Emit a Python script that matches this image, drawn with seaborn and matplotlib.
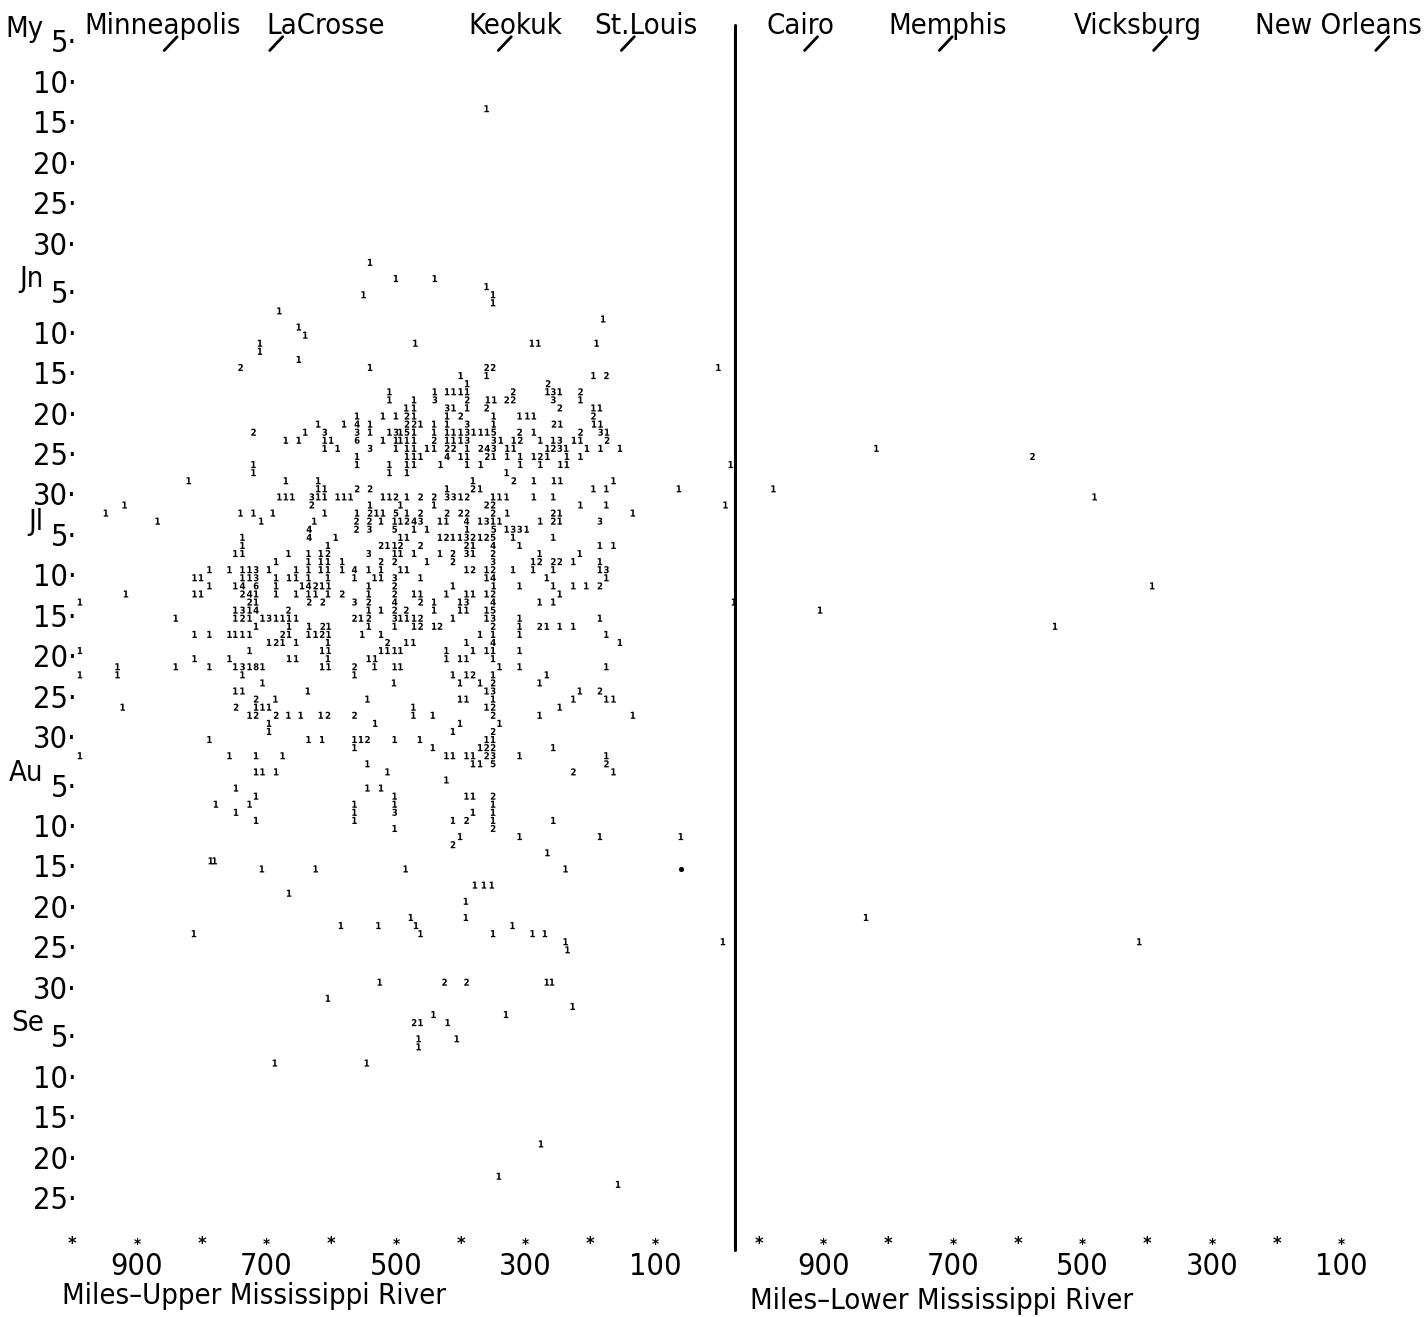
import matplotlib
matplotlib.use("Agg")
import matplotlib.pyplot as plt
import pandas as pd
import seaborn as sns

# days are counted from April 30 (May 5 = 5, Jun 5 = 36, Jul 5 = 66 ...)
# miles are river miles; each digit is a count of cases on that day / stretch

upper_row_day = [
    13, 32, 34, 35, 36, 37, 38, 39, 40, 41, 42, 43, 44, 45, 46, 47,
    48, 49, 50, 51, 52, 53, 54, 55, 56, 57, 58, 59, 60, 61, 62, 63,
    64, 65, 66, 67, 68, 69, 70, 71, 72, 73, 74, 75, 76, 77, 78, 79,
    80, 81, 82, 83, 84, 85, 86, 87, 88, 89, 90, 91, 92, 93, 94, 95,
    96, 97, 98, 99, 100, 101, 102, 103, 104, 105, 106, 107, 109, 110,
    111, 113, 114, 115, 116, 117, 121, 123, 124, 125, 126, 128, 129,
    131, 141, 145, 146,
]

upper_row_mile = [
    [360],
    [540],
    [500, 440],
    [360],
    [550, 350],
    [350],
    [680],
    [180],
    [650],
    [640],
    [710, 470, 290, 280, 190],
    [710],
    [650],
    [740, 540, 360, 350, 2],
    [400, 360, 195, 175],
    [390, 265],
    [510, 440, 421, 411, 400, 390, 319, 266, 257, 247, 215],
    [510, 472, 440, 390, 358, 348, 329, 319, 257, 215],
    [484, 472, 421, 411, 390, 360, 247, 195, 185],
    [560, 520, 500, 483, 472, 421, 400, 349, 309, 297, 287, 195],
    [620, 580, 560, 540, 483, 472, 462, 441, 421, 390, 349, 256, 246, 194,
     184],
    [720, 640, 610, 560, 540, 510, 500, 493, 483, 472, 441, 421, 411, 400,
     390, 380, 369, 359, 349, 309, 287, 215, 184, 174],
    [670, 650, 610, 600, 560, 520, 500, 493, 483, 472, 441, 421, 411, 400,
     390, 349, 338, 318, 308, 277, 257, 247, 225, 215, 174],
    [610, 590, 540, 500, 483, 472, 452, 441, 421, 411, 390, 369, 359, 349,
     328, 318, 266, 257, 247, 237, 205, 184, 154],
    [560, 483, 472, 462, 421, 400, 390, 359, 349, 328, 308, 287, 277, 266,
     236, 215],
    [720, 560, 510, 483, 472, 431, 390, 369, 308, 277, 246, 236, -17],
    [720, 510, 483, 329],
    [820, 670, 620, 381, 318, 287, 256, 246, 164],
    [620, 610, 560, 540, 421, 381, 370, 195, 175, 63],
    [680, 670, 660, 630, 620, 610, 590, 580, 570, 520, 510, 500, 483, 462,
     441, 421, 411, 400, 390, 350, 340, 329, 287, 257],
    [919, 630, 540, 493, 441, 360, 350, 215, 175, -9],
    [948, 740, 720, 690, 610, 560, 540, 530, 520, 500, 483, 462, 421, 400,
     390, 350, 328, 257, 247, 134],
    [868, 708, 626, 561, 541, 523, 502, 493, 483, 472, 462, 432, 422, 391,
     370, 360, 350, 340, 277, 257, 247, 185],
    [634, 561, 541, 502, 472, 452, 390, 349, 329, 319, 309, 298],
    [737, 634, 593, 493, 483, 432, 422, 412, 401, 391, 381, 370, 360, 350,
     319, 257],
    [737, 605, 523, 513, 502, 493, 462, 391, 381, 350, 309, 185, 164],
    [748, 737, 666, 635, 616, 605, 542, 502, 493, 472, 432, 412, 391, 381,
     350, 278, 216],
    [685, 635, 616, 605, 583, 523, 502, 452, 412, 350, 288, 278, 257, 247,
     226, 185],
    [788, 757, 737, 726, 716, 696, 654, 635, 616, 605, 583, 564, 542, 523,
     493, 483, 391, 381, 360, 350, 319, 288, 257, 185, 175],
    [811, 801, 737, 726, 716, 685, 665, 654, 635, 605, 564, 533, 523, 502,
     462, 360, 350, 267, 175],
    [788, 748, 737, 716, 685, 645, 635, 624, 614, 604, 542, 502, 412, 349,
     309, 257, 226, 206, 185],
    [917, 811, 801, 737, 726, 716, 685, 654, 635, 624, 605, 583, 542, 502,
     472, 462, 422, 391, 381, 360, 350, 247],
    [988, 726, 716, 634, 613, 564, 542, 502, 462, 441, 401, 391, 350, 278,
     257, -22],
    [748, 737, 726, 716, 666, 542, 523, 502, 484, 441, 401, 391, 360, 350],
    [840, 748, 737, 726, 706, 696, 685, 675, 665, 654, 564, 554, 542, 502,
     493, 483, 472, 462, 412, 360, 350, 309, 185],
    [716, 665, 634, 613, 604, 542, 502, 472, 462, 441, 432, 350, 309, 278,
     267, 247, 226],
    [811, 788, 757, 748, 737, 726, 675, 665, 635, 624, 614, 604, 552, 523,
     370, 350, 309, 175],
    [696, 685, 675, 654, 605, 513, 484, 473, 391, 350, 154],
    [988, 726, 614, 604, 523, 513, 502, 493, 422, 381, 360, 350, 309],
    [811, 757, 665, 654, 605, 542, 532, 422, 401, 391, 350],
    [930, 840, 788, 748, 737, 726, 716, 706, 614, 604, 564, 533, 502, 493,
     340, 309, 175],
    [988, 930, 737, 564, 412, 391, 381, 350, 267],
    [706, 503, 401, 370, 350, 278],
    [748, 737, 636, 360, 350, 216, 185],
    [716, 686, 544, 401, 391, 350, 226, 175, 164],
    [922, 747, 716, 706, 696, 473, 360, 350, 247],
    [726, 716, 685, 666, 647, 616, 605, 564, 473, 443, 350, 278, 134],
    [696, 532, 401, 340],
    [696, 412, 350],
    [788, 635, 614, 564, 554, 544, 502, 463, 360, 350],
    [564, 443, 370, 360, 350, 257],
    [988, 757, 716, 675, 422, 412, 391, 381, 360, 350, 309, 175],
    [544, 381, 370, 350, 175],
    [716, 706, 685, 513, 226, 164],
    [422],
    [747, 544, 523],
    [716, 502, 391, 381, 350],
    [778, 726, 564, 502, 350],
    [747, 564, 502, 381, 350],
    [716, 564, 412, 391, 350, 257],
    [502, 350],
    [401, 309, 185, 60],
    [412],
    [266],
    [786, 780],
    [707, 624, 485, 238],
    [378, 364, 352],
    [665],
    [392],
    [477, 392],
    [585, 527, 469, 320],
    [812, 462, 350, 289, 270],
    [238, -5],
    [235],
    [525, 425, 391, 267, 259],
    [605],
    [227],
    [442, 330],
    [472, 462, 420],
    [465, 406],
    [465],
    [687, 545],
    [276],
    [341],
    [157],
]

upper_row_count = [
    [1],
    [1],
    [1, 1],
    [1],
    [1, 1],
    [1],
    [1],
    [1],
    [1],
    [1],
    [1, 1, 1, 1, 1],
    [1],
    [1],
    [2, 1, 2, 2, 1],
    [1, 1, 1, 2],
    [1, 2],
    [1, 1, 1, 1, 1, 1, 2, 1, 3, 1, 2],
    [1, 1, 3, 2, 1, 1, 2, 2, 3, 1],
    [1, 1, 3, 1, 1, 2, 2, 1, 1],
    [1, 1, 1, 2, 1, 1, 2, 1, 1, 1, 1, 2],
    [1, 1, 4, 1, 2, 2, 1, 1, 1, 3, 1, 2, 1, 1, 1],
    [2, 1, 3, 3, 1, 1, 3, 1, 5, 1, 1, 1, 1, 1, 3, 1, 1, 1, 5, 2, 1, 2, 3, 1],
    [1, 1, 1, 1, 6, 1, 1, 1, 1, 1, 2, 1, 1, 1, 3, 3, 1, 1, 2, 1, 1, 3, 1, 1,
     2],
    [1, 1, 3, 1, 1, 1, 1, 1, 2, 2, 1, 2, 4, 3, 1, 1, 1, 2, 3, 1, 1, 1, 1],
    [1, 1, 1, 1, 4, 1, 1, 2, 1, 1, 1, 1, 2, 1, 1, 1],
    [1, 1, 1, 1, 1, 1, 1, 1, 1, 1, 1, 1, 1],
    [1, 1, 1, 1],
    [1, 1, 1, 1, 2, 1, 1, 1, 1],
    [1, 1, 2, 2, 1, 2, 1, 1, 1, 1],
    [1, 1, 1, 3, 1, 1, 1, 1, 1, 1, 1, 2, 1, 2, 2, 3, 3, 1, 2, 1, 1, 1, 1, 1],
    [1, 2, 1, 1, 1, 2, 2, 1, 1, 1],
    [1, 1, 1, 1, 1, 1, 2, 1, 1, 5, 1, 2, 2, 2, 2, 2, 1, 2, 1, 1],
    [1, 1, 1, 2, 2, 1, 1, 1, 2, 4, 3, 1, 1, 4, 1, 3, 1, 1, 1, 2, 1, 3],
    [4, 2, 3, 5, 1, 1, 1, 5, 1, 3, 3, 1],
    [1, 4, 1, 1, 1, 1, 2, 1, 1, 3, 2, 1, 2, 5, 1, 1],
    [1, 1, 2, 1, 1, 2, 2, 2, 1, 4, 1, 1, 1],
    [1, 1, 1, 1, 1, 2, 3, 1, 1, 1, 1, 2, 3, 1, 2, 1, 1],
    [1, 1, 1, 1, 1, 2, 2, 1, 2, 3, 1, 2, 2, 2, 1, 1],
    [1, 1, 1, 1, 3, 1, 1, 1, 1, 1, 1, 4, 1, 1, 1, 1, 1, 2, 1, 2, 1, 1, 1, 1,
     3],
    [1, 1, 1, 1, 3, 1, 1, 1, 1, 1, 1, 1, 1, 3, 1, 1, 4, 1, 1],
    [1, 1, 4, 6, 1, 1, 4, 2, 1, 1, 1, 2, 1, 1, 1, 1, 1, 1, 2],
    [1, 1, 1, 2, 4, 1, 1, 1, 1, 1, 1, 2, 1, 2, 1, 1, 1, 1, 1, 1, 2, 1],
    [1, 2, 1, 2, 2, 3, 2, 4, 2, 1, 1, 3, 4, 1, 1, 1],
    [1, 3, 1, 4, 2, 1, 1, 2, 2, 1, 1, 1, 1, 5],
    [1, 1, 2, 1, 1, 3, 1, 1, 1, 1, 2, 1, 2, 3, 1, 1, 1, 2, 1, 1, 3, 1, 1],
    [1, 1, 1, 2, 1, 1, 1, 1, 2, 1, 2, 2, 1, 2, 1, 1, 1],
    [1, 1, 1, 1, 1, 1, 2, 1, 1, 1, 2, 1, 1, 1, 1, 1, 1, 1],
    [1, 2, 1, 1, 1, 2, 1, 1, 1, 4, 1],
    [1, 1, 1, 1, 1, 1, 1, 1, 1, 1, 1, 1, 1],
    [1, 1, 1, 1, 1, 1, 1, 1, 1, 1, 1],
    [1, 1, 1, 1, 3, 1, 8, 1, 1, 1, 2, 1, 1, 1, 1, 1, 1],
    [1, 1, 1, 1, 1, 1, 2, 1, 1],
    [1, 1, 1, 1, 2, 1],
    [1, 1, 1, 1, 3, 1, 2],
    [2, 1, 1, 1, 1, 1, 1, 1, 1],
    [1, 2, 1, 1, 1, 1, 1, 2, 1],
    [1, 2, 2, 1, 1, 1, 2, 2, 1, 1, 2, 1, 1],
    [1, 1, 1, 1],
    [1, 1, 2],
    [1, 1, 1, 1, 1, 2, 1, 1, 1, 1],
    [1, 1, 1, 2, 2, 1],
    [1, 1, 1, 1, 1, 1, 1, 1, 2, 3, 1, 1],
    [1, 1, 1, 5, 2],
    [1, 1, 1, 1, 2, 1],
    [1],
    [1, 1, 1],
    [1, 1, 1, 1, 2],
    [1, 1, 1, 1, 1],
    [1, 1, 3, 1, 1],
    [1, 1, 1, 2, 1, 1],
    [1, 2],
    [1, 1, 1, 1],
    [2],
    [1],
    [1, 1],
    [1, 1, 1, 1],
    [1, 1, 1],
    [1],
    [1],
    [1, 1],
    [1, 1, 1, 1],
    [1, 1, 1, 1, 1],
    [1, 1],
    [1],
    [1, 2, 2, 1, 1],
    [1],
    [1],
    [1, 1],
    [2, 1, 1],
    [1, 1],
    [1],
    [1, 1],
    [1],
    [1],
    [1],
]

lower_day = [55, 56, 60, 61, 72, 75, 77, 113, 116]
lower_mile = [818, 577, 977, 481, 392, 905, 542, 834, 412]
lower_count = [1, 2, 1, 1, 1, 1, 1, 1, 1]

dot_day = [107]
dot_mile = [60]

upper_towns = ["Minneapolis", "LaCrosse", "Keokuk", "St.Louis"]
upper_town_mile = [848, 685, 332, 142]
lower_towns = ["Cairo", "Memphis", "Vicksburg", "New Orleans"]
lower_town_mile = [919, 711, 380, 37]

tick_day = [5, 10, 15, 20, 25, 30, 36, 41, 46, 51, 56, 61, 66, 71, 76, 81,
            86, 91, 97, 102, 107, 112, 117, 122, 128, 133, 138, 143, 148]
tick_label = ["5", "10", "15", "20", "25", "30"] * 4 + \
    ["5", "10", "15", "20", "25"]
month_day = [5, 36, 66, 97, 128]
month_name = ["My", "Jn", "Jl", "Au", "Se"]

mile_labels = [900, 700, 500, 300, 100]
mile_stars = [1000, 800, 600, 400, 200]

FS = 21


def upper_x(m):
    """Chart position of an Upper Mississippi mile."""
    return 1000 - m


def lower_x(m):
    """Chart position of a Lower Mississippi mile."""
    return 2060 - m


def build_marks():
    rows = []
    for day, miles, counts in zip(upper_row_day, upper_row_mile,
                                  upper_row_count):
        assert len(miles) == len(counts), day
        for m, c in zip(miles, counts):
            rows.append((upper_x(m), day, c))
    for day, m, c in zip(lower_day, lower_mile, lower_count):
        rows.append((lower_x(m), day, c))
    return pd.DataFrame(rows, columns=["x", "day", "count"])


def main():
    sns.set_theme(style="white")
    # narrow face for the labels, like the original print
    plt.rcParams['font.family'] = ['Liberation Sans Narrow',
                                   'DejaVu Sans Condensed', 'DejaVu Sans']
    plt.rcParams['font.stretch'] = 'condensed'
    plt.rcParams['text.color'] = 'black'
    fig = plt.figure(figsize=(14.24, 13.17), dpi=100)
    ax = fig.add_axes([0, 0, 1, 1])

    marks = build_marks()
    levels = sorted(marks["count"].unique())
    markers = {c: "$\\mathbf{%d}$" % c for c in levels}
    sns.scatterplot(data=marks, x="x", y="day", style="count",
                    markers=markers, color="black", s=26, linewidth=0,
                    legend=False, ax=ax)
    sns.scatterplot(x=[upper_x(m) for m in dot_mile], y=dot_day,
                    marker="o", color="black", s=14, linewidth=0,
                    legend=False, ax=ax)

    ax.set_xlim(-111.6, 2087.6)
    ax.set_ylim(162.4, -0.44)
    ax.axis("off")

    # divider between the two rivers
    ax.plot([1023.6, 1023.6], [2.6, 154.1], color="black", lw=2.2)

    # left date scale
    for d, lab in zip(tick_day, tick_label):
        ax.text(7.3, d, lab + "\u00b7", ha="right", va="center",
                fontsize=FS + 1)
    for d, name in zip(month_day, month_name):
        ax.text(-44, d - 1.9, name, ha="right", va="center", fontsize=FS)

    # towns along the top
    up_off = [-12, 76, 17, 28]
    lo_off = [-17, 3, -34, -68]
    towns = list(zip(upper_towns, map(upper_x, upper_town_mile), up_off)) + \
        list(zip(lower_towns, map(lower_x, lower_town_mile), lo_off))
    for name, x, off in towns:
        ax.text(x + off, 3.8, name, ha="center", va="baseline", fontsize=FS)
        ax.plot([x - 10, x + 10], [5.8, 4.1], color="black", lw=2)

    # bottom mile scales
    for conv in (upper_x, lower_x):
        for m in mile_stars:
            ax.text(conv(m), 153.4, "*", ha="center", va="center",
                    fontsize=13, fontweight="bold")
        for m in mile_labels:
            ax.text(conv(m), 153.5, "*", ha="center", va="center",
                    fontsize=11, fontweight="bold")
            ax.text(conv(m), 156.2, str(m), ha="center", va="center",
                    fontsize=FS + 1)
    ax.text(-15.8, 159.8, "Miles\u2013Upper Mississippi River", ha="left",
            va="center", fontsize=FS)
    ax.text(1046.7, 160.4, "Miles\u2013Lower Mississippi River", ha="left",
            va="center", fontsize=FS)

    fig.savefig("out.png", dpi=100, facecolor="white")


if __name__ == "__main__":
    main()
